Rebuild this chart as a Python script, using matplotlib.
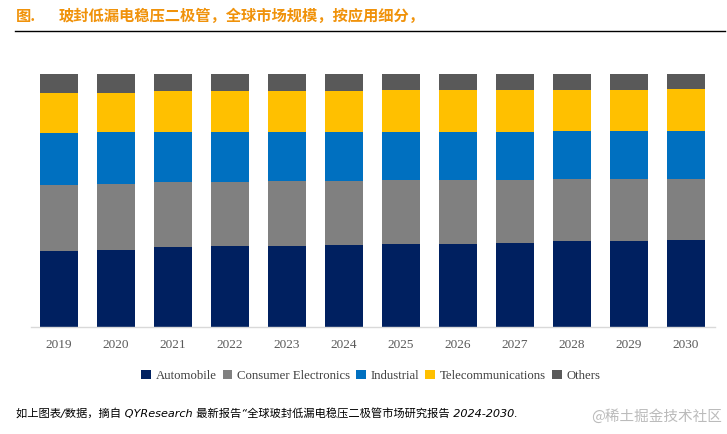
import matplotlib
matplotlib.use("Agg")
import matplotlib.pyplot as plt
import numpy as np

years = ["2019", "2020", "2021", "2022", "2023", "2024", "2025", "2026", "2027", "2028", "2029", "2030"]
automobile = [30.1, 30.4, 31.5, 31.9, 32.1, 32.3, 32.7, 32.8, 33.2, 33.9, 34.0, 34.3]
consumer = [26.0, 26.1, 25.7, 25.3, 25.6, 25.3, 25.3, 25.2, 24.8, 24.5, 24.4, 24.1]
industrial = [20.7, 20.7, 19.9, 19.9, 19.5, 19.5, 19.1, 19.1, 19.1, 19.1, 19.1, 19.1]
telecom = [15.8, 15.4, 16.2, 16.2, 16.1, 16.1, 16.5, 16.5, 16.5, 16.1, 16.1, 16.5]
others = [7.4, 7.4, 6.7, 6.7, 6.7, 6.8, 6.4, 6.4, 6.4, 6.4, 6.4, 6.0]

series_names = ["Automobile", "Consumer Electronics", "Industrial", "Telecommunications", "Others"]
series_values = [automobile, consumer, industrial, telecom, others]
colors = ["#002060", "#808080", "#0070C0", "#FFC000", "#595959"]

title_prefix = "图."
title_text = "玻封低漏电稳压二极管，全球市场规模，按应用细分，"
footer_text = "如上图表/数据，摘自 QYResearch 最新报告“全球玻封低漏电稳压二极管市场研究报告 2024-2030."
watermark = "@稀土掘金技术社区"

fig = plt.figure(figsize=(7.27, 4.34), dpi=100)
ax = fig.add_axes([30.5 / 727, 1 - 327 / 434, 684 / 727, 253 / 434])

x = np.arange(len(years))
bottom = np.zeros(len(years))
handles = []
for name, vals, c in zip(series_names, series_values, colors):
    v = np.array(vals)
    b = ax.bar(x, v, bottom=bottom, width=0.684, color=c, label=name, linewidth=0)
    handles.append(b)
    bottom += v

ax.set_xlim(-0.5, len(years) - 0.5)
ax.set_ylim(0, 100)
ax.set_yticks([])
ax.set_xticks(x)
ax.set_xticklabels(years, fontfamily="Liberation Serif", fontsize=9.5, color="#595959")
ax.tick_params(axis="x", length=0, pad=9)
for s in ["top", "right", "left"]:
    ax.spines[s].set_visible(False)
ax.spines["bottom"].set_color("#D9D9D9")
ax.spines["bottom"].set_linewidth(1.0)

leg = fig.legend(handles, series_names, loc="center", bbox_to_anchor=(0.51, 1 - 376 / 434),
                 ncol=5, frameon=False, prop={"family": "Liberation Serif", "size": 9.2},
                 handlelength=0.75, handleheight=0.75, handletextpad=0.35, columnspacing=0.5,
                 borderaxespad=0)
for t in leg.get_texts():
    t.set_color("#404040")

orange = "#F0920A"
fig.text(16 / 727, 1 - 16 / 434, title_prefix, fontsize=11, fontweight="bold", color=orange,
         family=["Noto Sans CJK SC", "DejaVu Sans"], va="center", ha="left")
fig.text(59 / 727, 1 - 16 / 434, title_text, fontsize=11, fontweight="bold", color=orange,
         family=["Noto Sans CJK SC", "DejaVu Sans"], va="center", ha="left")
fig.add_artist(plt.Line2D([15 / 727, 725 / 727], [1 - 31 / 434, 1 - 31 / 434],
                          transform=fig.transFigure, color="#000000", linewidth=1.0))

fig.text(16 / 727, 1 - 414 / 434, footer_text, fontsize=8.1, style="italic", color="#000000",
         family=["DejaVu Sans", "Noto Sans CJK SC"], va="center", ha="left")
fig.text(722 / 727, 1 - 416 / 434, watermark, fontsize=10.5, color="#BBBBBB",
         family=["Noto Sans CJK SC", "DejaVu Sans"], va="center", ha="right")

fig.savefig("out.png", dpi=100)
